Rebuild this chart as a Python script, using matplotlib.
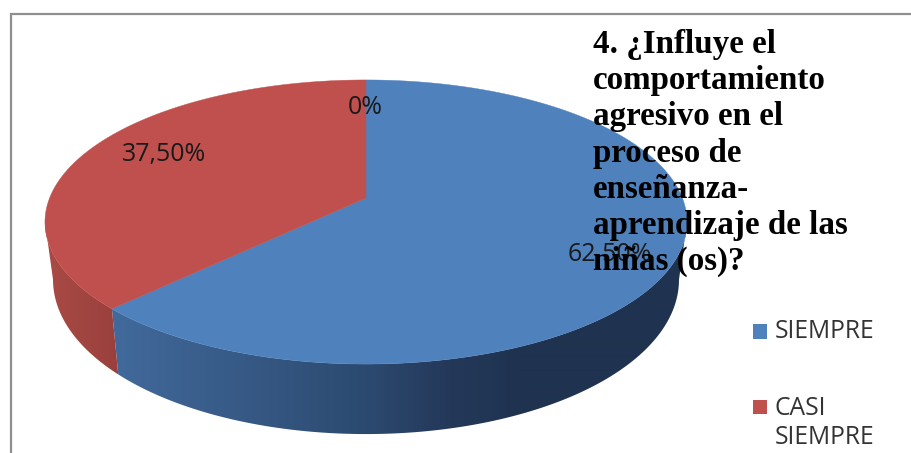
# 3D looking pie chart, drawn with a perspective projection of the unit circle
import numpy as np
import matplotlib
matplotlib.use('Agg')
import matplotlib.pyplot as plt
from matplotlib.colors import to_rgb
from matplotlib.patches import Polygon

# data
categories = ['SIEMPRE', 'CASI\nSIEMPRE', 'NUNCA']
values = [62.5, 37.5, 0.0]
value_labels = ['62,50%', '37,50%', '0%']
top_colors = ['#4f81bd', '#c0504d', '#9bbb59']
title_lines = ['4. ¿Influye el', 'comportamiento', 'agresivo en el', 'proceso de',
               'enseñanza-', 'aprendizaje de las', 'niñas (os)?']

# colours of the side wall, by pixel column
wall_x = [50, 118, 366, 450, 520, 690]
wall_blue = ['#41699b', '#41699b', '#2c4a70', '#24385a', '#1f3350', '#1f3350']
wall_red = ['#a84a46', '#9a403c', '#9a403c', '#9a403c', '#9a403c', '#9a403c']

# geometry of the perspective pie (in pixels)
CX, CY = 366.0, 198.0
A, B, K = 316.4, 138.0, 0.169


def project(theta):
    # theta: clockwise from the top, in radians
    u, v = np.sin(theta), np.cos(theta)
    w = 1 + K * v
    return CX + A * u / w, CY - B * v / w


def project_bottom(theta):
    x, y = project(theta)
    return CX + 0.975 * (x - CX), y + 55 - 15 * np.cos(theta)


def wall_image(stops):
    rgb = np.array([to_rgb(c) for c in stops])
    xs = np.arange(912) + 0.5
    row = np.stack([np.interp(xs, wall_x, rgb[:, i]) for i in range(3)], axis=1)
    return row[np.newaxis, :, :]


fig = plt.figure(figsize=(9.12, 4.53), dpi=100)
ax = fig.add_axes([0, 0, 1, 1])

# frame
ax.plot([11, 11, 912], [453, 14, 14], color='#8f8f8f', lw=1.6, solid_joinstyle='miter', zorder=1)

# angles of the slices
fracs = np.array(values) / sum(values)
edges = np.concatenate([[0], np.cumsum(fracs)]) * 2 * np.pi

# side wall first: a horizontal gradient clipped to the visible wall of each slice
tangent = np.pi / 2 + np.arcsin(K)  # widest point of the rim, wall behind it is covered by the top
spans = [(max(edges[0], tangent), edges[1]), (edges[1], min(edges[2], 2 * np.pi - tangent))]
for (a, b), stops in zip(spans, [wall_blue, wall_red]):
    th = np.linspace(a, b, 300)
    xt, yt = project(th)
    xb, yb = project_bottom(th[::-1])
    clip = Polygon(np.column_stack([np.r_[xt, xb], np.r_[yt, yb]]), closed=True,
                   transform=ax.transData, fc='none', ec='none')
    ax.add_patch(clip)
    im = ax.imshow(wall_image(stops), extent=(0, 912, 453, 0), aspect='auto',
                   interpolation='bilinear', zorder=2)
    im.set_clip_path(clip)

# top of the pie
for i in range(3):
    if fracs[i] == 0:
        continue
    th = np.linspace(edges[i], edges[i + 1], 300)
    x, y = project(th)
    ax.fill(np.r_[CX, x], np.r_[CY, y], color=top_colors[i], lw=0.3, zorder=3)

ax.set_xlim(0, 912)
ax.set_ylim(453, 0)
ax.axis('off')

# data labels
label_font = 'Open Sans'
label_pos = [(610, 254), (164, 155), (365, 108)]
for txt, (lx, ly) in zip(value_labels, label_pos):
    ax.text(lx, ly, txt, family=label_font, fontsize=18, color='#1a1a1a',
            ha='center', va='center', zorder=4)

# title sits over everything
ax.text(593, 270, '\n'.join(title_lines), family='Liberation Serif', weight='bold',
        fontsize=23.8, color='black', ha='left', va='baseline', linespacing=1.215, zorder=5)

# legend
ax.scatter([760, 760], [331.5, 407], marker='s', s=105, c=top_colors[:2], lw=0, zorder=4)
ax.text(775, 332, categories[0], family=label_font, fontsize=17.7, color='#333333',
        ha='left', va='center', zorder=4)
ax.text(775, 423, categories[1], family=label_font, fontsize=17.7, color='#333333',
        ha='left', va='center', linespacing=1.23, zorder=4)

fig.savefig('out.png', dpi=100)
